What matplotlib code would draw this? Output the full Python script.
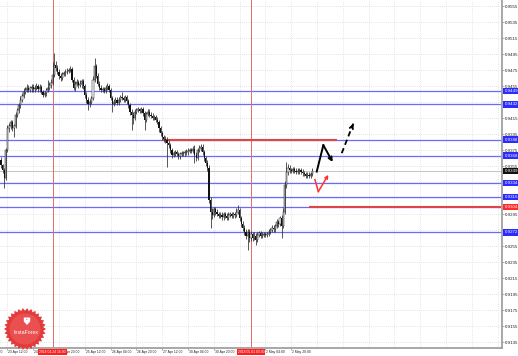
import numpy as np
import matplotlib
matplotlib.use("Agg")
import matplotlib.pyplot as plt
import matplotlib.transforms as mtransforms
from matplotlib.patches import Polygon, Circle

plt.rcParams['font.family'] = ['Liberation Sans', 'DejaVu Sans']

# H1 candles, 23 Apr 08:00 .. 2 May 21:00 (bar index = hour)
first_open = 0.9363
closes = [
    0.9356, 0.9350, 0.9340, 0.9375, 0.9402, 0.9405, 0.9410, 0.9402, 0.9405, 0.9419,
    0.9425, 0.9431, 0.9438, 0.9443, 0.9448, 0.9450, 0.9453, 0.9450, 0.9452,
    0.9454, 0.9451, 0.9453, 0.9455, 0.9451, 0.9454, 0.9448, 0.9444, 0.9446, 0.9450, 0.9453, 0.9456,
    0.9459, 0.9469, 0.9481, 0.9478, 0.9473, 0.9468, 0.9465, 0.9470, 0.9471, 0.9473,
    0.9474, 0.9475, 0.9476, 0.9463, 0.9453, 0.9458, 0.9460, 0.9456, 0.9458,
    0.9461, 0.9455, 0.9444, 0.9438, 0.9433, 0.9435, 0.9440, 0.9463, 0.9480, 0.9468, 0.9458, 0.9453,
    0.9450, 0.9451, 0.9449, 0.9453, 0.9455, 0.9450, 0.9440, 0.9433, 0.9435, 0.9438,
    0.9434, 0.9438, 0.9441, 0.9440, 0.9438, 0.9441, 0.9436, 0.9431, 0.9423, 0.9419,
    0.9415, 0.9423, 0.9425, 0.9426,
    0.9424, 0.9426, 0.9421, 0.9413, 0.9420, 0.9423, 0.9419,
    0.9418, 0.9415, 0.9416, 0.9413, 0.9410, 0.9402, 0.9396, 0.9391, 0.9389, 0.9388,
    0.9384, 0.9381, 0.9375, 0.9369, 0.9371, 0.9372, 0.9370, 0.9367, 0.9370, 0.9371,
    0.9371, 0.9372, 0.9373,
    0.9374, 0.9375, 0.9374, 0.9376, 0.9369, 0.9365, 0.9375, 0.9378,
    0.9379, 0.9372, 0.9365, 0.9359, 0.9353, 0.9313, 0.9298, 0.9294, 0.9301, 0.9298,
    0.9295, 0.9293, 0.9294, 0.9291, 0.9295, 0.9293, 0.9290, 0.9294, 0.9295, 0.9293, 0.9295,
    0.9294, 0.9298, 0.9300, 0.9290, 0.9283, 0.9278, 0.9273, 0.9268, 0.9273, 0.9265,
    0.9270, 0.9265, 0.9268, 0.9263, 0.9269, 0.9271, 0.9268, 0.9269, 0.9270, 0.9269,
    0.9270, 0.9273, 0.9275, 0.9278, 0.9276, 0.9280, 0.9285, 0.9283, 0.9290, 0.9280,
    0.9298, 0.9331, 0.9348, 0.9353, 0.9350, 0.9349, 0.9351, 0.9349, 0.9348, 0.9349,
    0.9350, 0.9348, 0.9346, 0.9345, 0.9343, 0.9344, 0.9343, 0.9345, 0.9349,
]
highs = [
    0.9366, 0.9358, 0.9352, 0.9378, 0.9406, 0.9409, 0.9413, 0.9413, 0.9408, 0.9422,
    0.9428, 0.9434, 0.9442, 0.9446, 0.9452, 0.9454, 0.9457, 0.9456, 0.9455,
    0.9457, 0.9457, 0.9456, 0.9459, 0.9458, 0.9457, 0.9456, 0.9450, 0.9449, 0.9453, 0.9462, 0.9460,
    0.9464, 0.9485, 0.9496, 0.9486, 0.9481, 0.9476, 0.9471, 0.9473, 0.9474, 0.9476,
    0.9477, 0.9478, 0.9480, 0.9479, 0.9466, 0.9461, 0.9464, 0.9463, 0.9462,
    0.9464, 0.9464, 0.9458, 0.9447, 0.9441, 0.9439, 0.9443, 0.9467, 0.9490, 0.9483, 0.9471, 0.9461,
    0.9456, 0.9454, 0.9454, 0.9456, 0.9459, 0.9458, 0.9452, 0.9443, 0.9439, 0.9441,
    0.9441, 0.9441, 0.9444, 0.9448, 0.9443, 0.9444, 0.9444, 0.9439, 0.9434, 0.9426,
    0.9422, 0.9426, 0.9428, 0.9429,
    0.9428, 0.9429, 0.9429, 0.9424, 0.9423, 0.9426, 0.9426,
    0.9422, 0.9421, 0.9419, 0.9419, 0.9416, 0.9413, 0.9405, 0.9399, 0.9394, 0.9392,
    0.9391, 0.9387, 0.9384, 0.9378, 0.9374, 0.9375, 0.9375, 0.9373, 0.9373, 0.9374,
    0.9374, 0.9375, 0.9376,
    0.9377, 0.9378, 0.9378, 0.9380, 0.9381, 0.9372, 0.9378, 0.9381,
    0.9383, 0.9382, 0.9375, 0.9368, 0.9362, 0.9356, 0.9316, 0.9302, 0.9304, 0.9304,
    0.9301, 0.9298, 0.9297, 0.9297, 0.9298, 0.9298, 0.9296, 0.9297, 0.9298, 0.9298, 0.9298,
    0.9297, 0.9302, 0.9306, 0.9303, 0.9293, 0.9286, 0.9281, 0.9276, 0.9276, 0.9276,
    0.9274, 0.9273, 0.9272, 0.9271, 0.9272, 0.9274, 0.9274, 0.9272, 0.9273, 0.9273,
    0.9273, 0.9276, 0.9278, 0.9281, 0.9281, 0.9283, 0.9289, 0.9288, 0.9293, 0.9294,
    0.9302, 0.9336, 0.9360, 0.9357, 0.9356, 0.9353, 0.9354, 0.9354, 0.9352, 0.9352,
    0.9353, 0.9353, 0.9351, 0.9349, 0.9348, 0.9347, 0.9347, 0.9348, 0.9352,
]
lows = [
    0.9352, 0.9346, 0.9327, 0.9337, 0.9372, 0.9398, 0.9401, 0.9399, 0.9391, 0.9402,
    0.9416, 0.9421, 0.9428, 0.9435, 0.9440, 0.9445, 0.9447, 0.9447, 0.9447,
    0.9447, 0.9448, 0.9448, 0.9450, 0.9448, 0.9448, 0.9445, 0.9441, 0.9441, 0.9443, 0.9447, 0.9450,
    0.9453, 0.9456, 0.9466, 0.9474, 0.9470, 0.9464, 0.9461, 0.9462, 0.9467, 0.9468,
    0.9470, 0.9471, 0.9472, 0.9460, 0.9450, 0.9449, 0.9455, 0.9452, 0.9454,
    0.9453, 0.9451, 0.9440, 0.9434, 0.9425, 0.9429, 0.9432, 0.9437, 0.9460, 0.9465, 0.9455, 0.9450,
    0.9447, 0.9447, 0.9446, 0.9446, 0.9450, 0.9447, 0.9437, 0.9423, 0.9430, 0.9432,
    0.9431, 0.9431, 0.9435, 0.9437, 0.9435, 0.9435, 0.9433, 0.9428, 0.9419, 0.9400,
    0.9408, 0.9412, 0.9420, 0.9422,
    0.9421, 0.9421, 0.9418, 0.9400, 0.9410, 0.9417, 0.9416,
    0.9415, 0.9412, 0.9412, 0.9410, 0.9407, 0.9398, 0.9392, 0.9387, 0.9385, 0.9384,
    0.9354, 0.9377, 0.9371, 0.9365, 0.9366, 0.9368, 0.9367, 0.9364, 0.9364, 0.9367,
    0.9368, 0.9368, 0.9369,
    0.9369, 0.9371, 0.9371, 0.9371, 0.9359, 0.9361, 0.9362, 0.9372,
    0.9374, 0.9369, 0.9361, 0.9355, 0.9349, 0.9309, 0.9278, 0.9289, 0.9291, 0.9294,
    0.9292, 0.9290, 0.9290, 0.9288, 0.9288, 0.9290, 0.9287, 0.9287, 0.9291, 0.9290, 0.9290,
    0.9290, 0.9291, 0.9295, 0.9286, 0.9279, 0.9274, 0.9269, 0.9264, 0.9250, 0.9260,
    0.9261, 0.9261, 0.9262, 0.9256, 0.9260, 0.9266, 0.9265, 0.9265, 0.9266, 0.9266,
    0.9266, 0.9267, 0.9270, 0.9272, 0.9273, 0.9273, 0.9277, 0.9279, 0.9280, 0.9265,
    0.9277, 0.9295, 0.9328, 0.9344, 0.9346, 0.9346, 0.9346, 0.9346, 0.9345, 0.9345,
    0.9345, 0.9345, 0.9343, 0.9342, 0.9340, 0.9340, 0.9340, 0.9340, 0.9342,
]

price_ticks = [0.9555, 0.9535, 0.9515, 0.9495, 0.9475, 0.9455, 0.9435, 0.9415,
               0.9395, 0.9375, 0.9355, 0.9335, 0.9315, 0.9295, 0.9275, 0.9255,
               0.9235, 0.9215, 0.9195, 0.9175, 0.9155, 0.9135]
time_ticks = [-12, 4, 20, 36, 52, 68, 84, 100, 116, 132, 148, 164, 180]
time_labels = ['22 Apr 20:00', '23 Apr 12:00', '24 Apr 04:00', '24 Apr 20:00',
               '25 Apr 12:00', '26 Apr 04:00', '26 Apr 20:00', '27 Apr 12:00',
               '30 Apr 04:00', '30 Apr 20:00', '1 May 12:00', '2 May 04:00',
               '2 May 20:00']

blue_levels = [0.9449, 0.9432, 0.9388, 0.9368, 0.9334, 0.9316, 0.9304, 0.9272]
red_levels = [0.9388, 0.9304]
red_start = [100.5, 191.0]
red_end = [208.4, 311.0]
current_price = 0.9349

vline_bars = [32, 155]
vline_labels = ['2018.04.24 16:00', '2018.05.01 03:00']

# forecast arrows
fc_up_x = [195.8, 199.9, 205.7]
fc_up_y = [0.9348, 0.9381, 0.9360]
fc_next_x = [211.3, 218.5]
fc_next_y = [0.9371, 0.9408]
fc_red_x = [194.7, 196.8, 203.0]
fc_red_y = [0.9338, 0.9323, 0.9344]

W, H = 518, 356
fig = plt.figure(figsize=(W / 100, H / 100), dpi=100)
fig.patch.set_facecolor('white')
ax = fig.add_axes([0, 8 / H, 502 / W, 348 / H])
ax.set_xlim(-0.62, 310.7)
ax.set_ylim(0.91275, 0.95625)

# grid
for p in price_ticks:
    ax.axhline(p, color='#cfcfcf', lw=0.5, ls=(0, (1, 2)), zorder=0)
for b in range(-12, 311, 16):
    ax.axvline(b, color='#cfcfcf', lw=0.5, ls=(0, (1, 2)), zorder=0)

# levels
for lv in blue_levels:
    ax.axhline(lv, color='#6a6aff', lw=0.9, zorder=1)
ax.axhline(current_price, color='#c4c4c4', lw=0.7, zorder=1)
for lv, x0, x1 in zip(red_levels, red_start, red_end):
    ax.plot([x0, x1], [lv, lv], color='#e04545', lw=1.5, zorder=1.5,
            solid_capstyle='butt')
for b in vline_bars:
    ax.axvline(b, color='#e86a6a', lw=0.7, zorder=1)

# candles
o = np.array([first_open] + closes[:-1])
c = np.array(closes)
x = np.arange(len(c))
up = c >= o
ax.vlines(x, lows, highs, color='#2a2a2a', lw=0.55, zorder=2)
ax.bar(x[up], (c - o)[up], bottom=o[up], width=0.75, color='white',
       edgecolor='#1a1a1a', linewidth=0.35, zorder=3)
ax.bar(x[~up], (o - c)[~up], bottom=c[~up], width=0.75, color='#111111',
       linewidth=0, zorder=3)

# forecast arrows
ax.plot(fc_up_x[:-1], fc_up_y[:-1], color='black', lw=1.4, zorder=4)
ax.annotate('', xy=(fc_up_x[-1], fc_up_y[-1]), xytext=(fc_up_x[-2], fc_up_y[-2]),
            arrowprops=dict(arrowstyle='->', color='black', lw=1.4,
                            mutation_scale=6, shrinkA=0, shrinkB=0), zorder=4)
ax.plot(fc_next_x, fc_next_y, color='black', lw=1.3, ls=(0, (3, 2)), zorder=4)
ax.annotate('', xy=(fc_next_x[-1], fc_next_y[-1]),
            xytext=(fc_next_x[-1] - 1.0, fc_next_y[-1] - 0.0005),
            arrowprops=dict(arrowstyle='->', color='black', lw=1.3,
                            mutation_scale=6, shrinkA=0, shrinkB=0), zorder=4)
ax.plot(fc_red_x[:-1], fc_red_y[:-1], color='#ff3030', lw=1.1, zorder=4)
ax.annotate('', xy=(fc_red_x[-1], fc_red_y[-1]), xytext=(fc_red_x[-2], fc_red_y[-2]),
            arrowprops=dict(arrowstyle='->', color='#ff3030', lw=1.1,
                            mutation_scale=5, shrinkA=0, shrinkB=0), zorder=4)

# axes look
for s in ['top', 'left']:
    ax.spines[s].set_visible(False)
for s in ['right', 'bottom']:
    ax.spines[s].set_color('#a0a0a0')
    ax.spines[s].set_linewidth(1.3)
ax.yaxis.tick_right()
ax.set_yticks(price_ticks)
ax.set_yticklabels([f'{p:.4f}' for p in price_ticks])
ax.tick_params(axis='y', length=1.5, width=0.5, color='#888888', pad=0.6,
               labelsize=3.2, labelcolor='#222222')
ax.set_xticks([t for t in time_ticks if t >= 0])
ax.tick_params(axis='x', length=1.5, width=0.5, color='#888888', labelbottom=False)

xtrans = mtransforms.blended_transform_factory(ax.transData, ax.transAxes)
for t, lab in zip(time_ticks, time_labels):
    ax.text(t + 0.6, -0.006, lab, transform=xtrans, ha='left', va='top',
            fontsize=2.4, color='#222222', clip_on=False)
for b, lab in zip(vline_bars, vline_labels):
    ax.text(b, -0.0105, lab, transform=xtrans, ha='center', va='center',
            fontsize=2.4, color='white', clip_on=False, zorder=6,
            bbox=dict(boxstyle='square,pad=0.3', fc='#ff1f1f', ec='none'))

ytrans = mtransforms.blended_transform_factory(ax.transAxes, ax.transData)
for lv in blue_levels:
    col = '#ff2a2a' if lv in red_levels[1:] else '#2b2bff'
    ax.text(1.005, lv, f'{lv:.4f}', transform=ytrans, ha='left', va='center',
            fontsize=3.2, color='white', clip_on=False, zorder=6,
            bbox=dict(boxstyle='square,pad=0.25', fc=col, ec='none'))
ax.text(1.005, current_price, f'{current_price:.4f}', transform=ytrans,
        ha='left', va='center', fontsize=3.2, color='white', clip_on=False,
        zorder=6, bbox=dict(boxstyle='square,pad=0.25', fc='#111111', ec='none'))

# InstaForex badge
ov = fig.add_axes([0, 0, 1, 1], zorder=10)
ov.set_xlim(0, W)
ov.set_ylim(H, 0)
ov.axis('off')
ov.patch.set_alpha(0)
cx, cy = 25, 329
n = 30
ang = np.linspace(0, 2 * np.pi, 2 * n, endpoint=False)
rad = np.where(np.arange(2 * n) % 2 == 0, 21.0, 18.3)
ov.add_patch(Polygon(np.column_stack([cx + rad * np.cos(ang), cy + rad * np.sin(ang)]),
                     closed=True, fc='#e23b3b', ec='none'))
ov.add_patch(Circle((cx, cy), 15.5, fc='#ea5050', ec='none'))
ov.add_patch(Polygon([(23.8, 317.5), (30.2, 317.5), (30.2, 321.5), (27, 325), (23.8, 321.5)],
                     closed=True, fc='white', ec='none'))
ov.text(27, 321, '\u2022', color='#e23b3b', fontsize=3, ha='center', va='center')
ov.text(cx + 1, 333, 'InstaForex', color='white', fontsize=3.8, ha='center', va='center')

fig.savefig('out.png', dpi=100)
